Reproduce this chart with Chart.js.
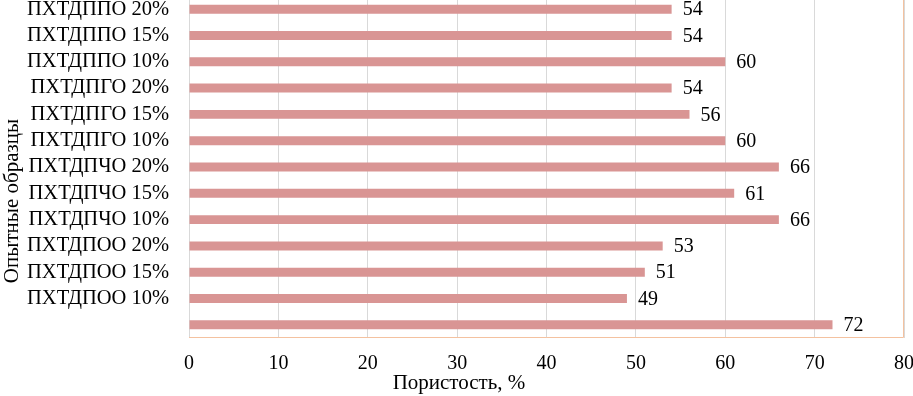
<!DOCTYPE html>
<html>
<head>
<meta charset="utf-8">
<script src="https://cdn.jsdelivr.net/npm/chart.js@4"></script>
<style>
    html, body { margin: 0; padding: 0; background: #ffffff; overflow: hidden; }
    #wrap { position: absolute; left: 0; top: -4px; width: 913px; height: 400px; }
</style>
</head>
<body>
<div id="wrap"><canvas id="porosity-chart"></canvas></div>
<script>
// Categories from top to bottom, the last bar has no label in the source
const categories = [
    'ПХТДППО 20%', 'ПХТДППО 15%', 'ПХТДППО 10%',
    'ПХТДПГО 20%', 'ПХТДПГО 15%', 'ПХТДПГО 10%',
    'ПХТДПЧО 20%', 'ПХТДПЧО 15%', 'ПХТДПЧО 10%',
    'ПХТДПОО 20%', 'ПХТДПОО 15%', 'ПХТДПОО 10%',
    '',
];
const porosity = [54, 54, 60, 54, 56, 60, 66, 61, 66, 53, 51, 49, 72];
const xTicks = [0, 10, 20, 30, 40, 50, 60, 70, 80];
const xTitle = 'Пористость, %';
const yTitle = 'Опытные образцы';

const FONT = "'Liberation Serif', 'Times New Roman', serif";

// value labels at the end of each bar, frame, and both axis titles
// (titles are centred on the whole chart, not on the plot area)
const annotations = {
    id: 'annotations',
    afterDatasetsDraw(chart) {
        const ctx = chart.ctx;
        const meta = chart.getDatasetMeta(0);
        ctx.save();
        ctx.font = `20px ${FONT}`;
        ctx.fillStyle = '#000000';
        ctx.textAlign = 'left';
        ctx.textBaseline = 'middle';
        meta.data.forEach((bar, i) => {
            ctx.fillText(String(porosity[i]), bar.x + 11, bar.y + 1);
        });

        const area = chart.chartArea;
        ctx.strokeStyle = '#f4c2a0';
        ctx.lineWidth = 1;
        ctx.beginPath();
        ctx.moveTo(area.left, area.top + 0.5);
        ctx.lineTo(area.right - 0.5, area.top + 0.5);
        ctx.lineTo(area.right - 0.5, area.bottom - 0.5);
        ctx.lineTo(area.left, area.bottom - 0.5);
        ctx.stroke();

        ctx.font = `21px ${FONT}`;
        ctx.textAlign = 'center';
        ctx.fillText(xTitle, 459, 387);

        ctx.translate(12, 205);
        ctx.rotate(-Math.PI / 2);
        ctx.fillText(yTitle, 0, 0);
        ctx.restore();
    }
};

document.addEventListener('DOMContentLoaded', () => {
    const context = document.getElementById('porosity-chart').getContext('2d');
    new Chart(context, {
        type: 'bar',
        data: {
            labels: categories,
            datasets: [
                {
                    label: xTitle,
                    data: porosity,
                    backgroundColor: '#d99594',
                    barPercentage: 0.5,
                    categoryPercentage: 0.68,
                }
            ]
        },
        options: {
            responsive: true,
            maintainAspectRatio: false,
            animation: false,
            indexAxis: 'y',
            layout: { padding: { left: 0, right: 9, top: 0, bottom: 0 } },
            scales: {
                x: {
                    min: 0,
                    max: 80,
                    afterBuildTicks: (scale) => {
                        scale.ticks = xTicks.map(v => ({ value: v }));
                    },
                    afterFit: (scale) => {
                        scale.height = 58;
                        scale.paddingLeft = 0;
                        scale.paddingRight = 0;
                    },
                    grid: { color: '#d9d9d9', drawTicks: false },
                    border: { display: false },
                    ticks: {
                        color: '#000000',
                        padding: 14,
                        font: { family: FONT, size: 20 }
                    },
                    title: { display: false }
                },
                y: {
                    afterFit: (scale) => {
                        scale.width = 189;
                        scale.paddingTop = 0;
                        scale.paddingBottom = 0;
                    },
                    grid: { display: false },
                    border: { display: false },
                    ticks: {
                        color: '#000000',
                        padding: 12,
                        autoSkip: false,
                        font: { family: FONT, size: 20.5 }
                    }
                }
            },
            plugins: {
                legend: { display: false },
                tooltip: { enabled: false }
            }
        },
        plugins: [annotations]
    });
});
</script>
</body>
</html>
